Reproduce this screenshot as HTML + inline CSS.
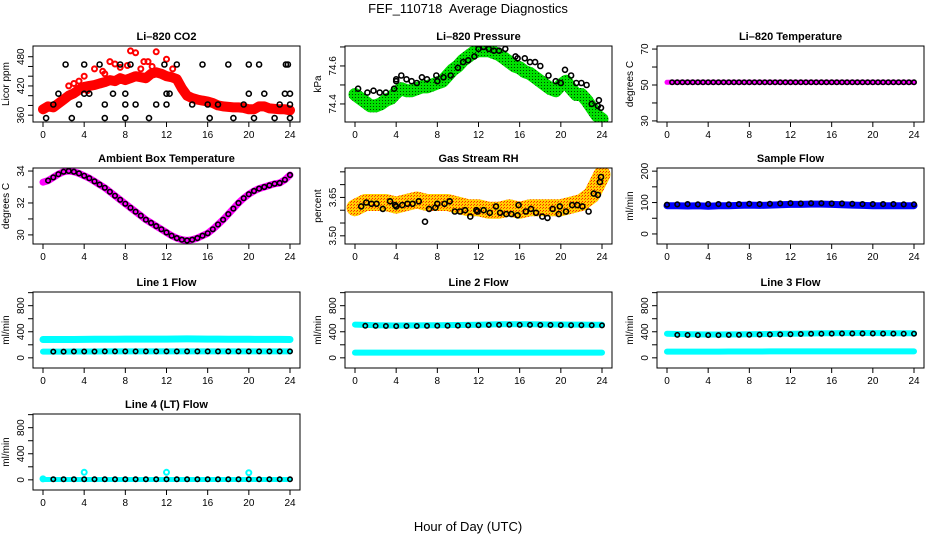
<!DOCTYPE html>
<html><head><meta charset="utf-8"><style>
html,body{margin:0;padding:0;background:#fff;}
svg{display:block;font-family:"Liberation Sans",sans-serif;}
</style></head><body>
<svg id="chart" width="936" height="540" viewBox="0 0 936 540">
<defs>
<pattern id="greenPat" width="3" height="3" patternUnits="userSpaceOnUse"><rect width="3" height="3" fill="#00e000"/><rect x="1" y="1" width="1" height="1" fill="#004400"/></pattern>
<pattern id="rhPat" width="3" height="3" patternUnits="userSpaceOnUse"><rect width="3" height="3" fill="#ffd000"/><rect x="0" y="0" width="1" height="1" fill="#ff2000"/><rect x="2" y="1" width="1" height="1" fill="#ff5000"/></pattern>
</defs>
<text x="468" y="13" text-anchor="middle" font-size="13">FEF_110718&#160; Average Diagnostics</text>
<text x="468" y="531" text-anchor="middle" font-size="13">Hour of Day (UTC)</text>
</svg>
<script>
// ---- data ----
const xTicks = [0,4,8,12,16,20,24];
const co2BandHours = [0,0.5,1,1.5,2,2.5,3,3.5,4,4.5,5,5.5,6,6.5,7,7.5,8,8.5,9,9.5,10,10.5,11,11.5,12,12.5,13,13.5,14,14.5,15,15.5,16,16.5,17,17.5,18,18.5,19,19.5,20,20.5,21,21.5,22,22.5,23,23.5,24];
const co2Band = [372,378,376,384,392,400,405,412,418,420,422,425,428,432,430,436,432,436,440,438,436,445,448,445,440,438,434,415,400,395,392,390,388,385,380,378,377,376,376,375,372,372,378,378,374,373,372,372,370];
const co2SpikeHours = [2.5,3,4,5,6,6.5,7.5,8.2,8.5,9,9.5,10.2,11,12,4.3,5.8,7,9.8,10.6,12.6,3.5];
const co2Spikes = [420,425,440,455,445,470,458,462,492,488,455,470,490,475,410,450,465,470,460,455,430];
const co2PtHours = [0.3,1,1.5,2.2,2.8,3.5,4,4,4.5,5.5,6,6,6.8,7.5,8,8,8,8.5,9,10.3,11,11.8,12,12,12.3,13,14.5,15.5,16,16.2,17,18,18.5,19.5,20,20,20.5,21,21.5,22.5,23,23.5,23.6,23.8,24,24,24];
const co2Pts = [354,382,404,464,354,382,464,404,404,464,382,354,404,464,404,382,354,464,382,354,382,464,404,382,404,464,382,464,382,354,382,464,354,382,464,404,354,464,404,354,382,404,464,464,354,404,382];
const presBandHours = co2BandHours;
const presBand = [74.45,74.43,74.41,74.39,74.39,74.40,74.42,74.43,74.46,74.48,74.47,74.47,74.48,74.49,74.49,74.50,74.51,74.52,74.55,74.58,74.60,74.63,74.65,74.67,74.68,74.68,74.68,74.67,74.66,74.64,74.62,74.60,74.59,74.57,74.56,74.54,74.52,74.50,74.48,74.47,74.50,74.52,74.48,74.45,74.45,74.42,74.38,74.34,74.32];
const presPtHours = [0.3,1.2,1.8,2.4,3,3.8,4,4,4.5,5,5.5,6,6.5,7,7.9,8,8.6,9.3,10,10.5,11,11.6,12,12.5,13,13.5,14,14.6,15.6,15.8,16.5,17,17.5,18,18.8,19.5,20,20.4,21,21.5,22,22.5,23,23.6,23.7,23.9];
const presPts = [74.48,74.46,74.47,74.46,74.46,74.48,74.52,74.53,74.55,74.53,74.52,74.51,74.54,74.53,74.55,74.52,74.54,74.55,74.59,74.62,74.63,74.65,74.69,74.70,74.69,74.68,74.68,74.69,74.65,74.64,74.64,74.62,74.62,74.60,74.55,74.52,74.51,74.58,74.55,74.51,74.51,74.50,74.40,74.39,74.42,74.38];
const tempHours = co2BandHours;
const tempVals = [51.5,51.5,51.5,51.5,51.5,51.5,51.5,51.5,51.5,51.5,51.5,51.5,51.5,51.5,51.5,51.5,51.5,51.5,51.5,51.5,51.5,51.5,51.5,51.5,51.5,51.5,51.5,51.5,51.5,51.5,51.5,51.5,51.5,51.5,51.5,51.5,51.5,51.5,51.5,51.5,51.5,51.5,51.5,51.5,51.5,51.5,51.5,51.5,51.5];
const ambHours = co2BandHours;
const ambVals = [33.3,33.4,33.6,33.8,33.95,34.0,33.95,33.85,33.7,33.55,33.35,33.15,32.95,32.7,32.45,32.2,31.95,31.7,31.45,31.2,30.95,30.75,30.55,30.35,30.15,29.95,29.8,29.7,29.65,29.7,29.8,29.95,30.1,30.35,30.65,30.95,31.3,31.65,32.0,32.3,32.55,32.75,32.9,33.0,33.1,33.2,33.25,33.45,33.75];
const rhBandHours = [0,1,2,3,4,5,6,7,8,9,10,11,12,13,14,15,16,17,18,19,20,21,22,23,23.5,24];
const rhBand = [3.61,3.63,3.63,3.63,3.62,3.63,3.64,3.63,3.63,3.63,3.62,3.61,3.61,3.60,3.60,3.61,3.60,3.61,3.61,3.61,3.61,3.62,3.63,3.66,3.70,3.74];
const rhPtHours = [0.6,1.1,1.6,2.1,2.7,3.4,3.9,4,4.6,5.1,5.6,6.2,6.8,7.2,7.8,8,8.7,9.2,9.7,10.2,10.7,11.2,11.8,11.9,12.5,13.1,13.7,14.1,14.7,15.2,15.8,15.9,16.6,17.1,17.6,18.2,18.7,19.2,19.8,19.9,20.5,21.1,21.6,22.1,22.7,23.2,23.6,23.8,23.9];
const rhPts = [3.615,3.63,3.625,3.625,3.605,3.635,3.62,3.615,3.62,3.625,3.625,3.635,3.555,3.605,3.61,3.625,3.625,3.635,3.595,3.595,3.60,3.575,3.60,3.595,3.60,3.59,3.615,3.59,3.585,3.585,3.58,3.62,3.595,3.605,3.59,3.575,3.57,3.605,3.585,3.615,3.595,3.62,3.62,3.615,3.595,3.665,3.66,3.71,3.73];
const flowHours = [0,1,2,3,4,5,6,7,8,9,10,11,12,13,14,15,16,17,18,19,20,21,22,23,24];
const sampleBand = [90,90,89,90,88,90,90,91,92,91,92,93,94,94,95,95,94,93,92,91,90,90,90,90,90];
const samplePts = [93,94,95,94,95,95,94,95,96,95,96,97,98,97,98,98,97,97,96,95,95,95,95,94,94];
const line1Hi = [282,282,281,282,283,284,285,286,287,288,288,288,288,289,290,289,288,287,286,285,284,283,283,283,282];
const line1Lo = [95,96,96,97,97,97,98,98,98,98,98,98,98,98,98,98,98,98,98,98,98,98,98,98,98];
const line2Hi = [510,505,500,498,496,497,498,499,500,502,504,506,508,512,515,516,515,514,513,512,511,510,510,509,508];
const line2Pts = [495,492,490,488,487,488,489,490,491,493,495,497,500,503,506,507,506,505,504,503,502,501,500,499,498];
const line2Lo = [80,80,80,80,80,80,80,80,80,80,80,80,80,80,80,80,80,80,80,80,80,80,80,80,80];
const line3Hi = [370,365,362,360,358,358,359,360,362,364,366,368,370,372,374,376,378,379,380,381,380,379,378,377,376];
const line3Pts = [355,352,350,349,348,349,350,352,354,356,358,360,362,365,368,370,372,373,374,374,373,372,372,371,370];
const line3Lo = [95,95,96,96,96,96,97,97,97,97,98,98,98,98,98,98,98,98,98,98,98,98,98,98,98];
const line4Band = [5,5,5,5,5,5,5,5,5,5,5,5,5,5,5,5,5,5,5,5,5,5,5,5,5];
const line4Pts = [8,8,8,8,8,8,8,8,8,8,8,8,8,8,8,8,8,8,8,8,8,8,8,8,8];
const line4SpikeHours = [0,4,12,20];
const line4Spikes = [15,115,115,110];

// ---- layout ----
const svg = document.getElementById('chart');
const NS = 'http://www.w3.org/2000/svg';
const colX = [33, 345, 657], rowY = [46, 168, 292, 414], PW = 267, PH = 76;
function mk(tag, attrs, parent){const e=document.createElementNS(NS,tag);for(const k in attrs)e.setAttribute(k,attrs[k]);(parent||svg).appendChild(e);return e;}

function panel(cfg){
  const x0 = colX[cfg.col], y0 = rowY[cfg.row];
  const g = mk('g',{});
  
  
  const xs = h => x0 + 10 + h/24*(PW-20);
  const ys = v => y0 + PH - (v - cfg.dom[0])/(cfg.dom[1]-cfg.dom[0])*PH;
  const clipId = 'clip-' + cfg.name;
  const cp = mk('clipPath',{id:clipId},g); mk('rect',{x:x0,y:y0,width:PW,height:PH},cp);
  const plot = mk('g',{'clip-path':'url(#'+clipId+')'},g);
  cfg.series.forEach(s=>{
    if(s.type==='band'){
      const d = s.h.map((h,i)=>(i?'L':'M')+xs(h).toFixed(1)+' '+ys(s.v[i]).toFixed(1)).join(' ');
      const p = mk('path',{d:d,fill:'none',stroke:s.color,'stroke-width':s.w,'stroke-linejoin':'round','stroke-linecap':'round'},plot);
      
      
    }
    if(s.type==='pts'){
      s.h.forEach((h,i)=>{
        const c = mk('circle',{cx:xs(h).toFixed(1),cy:ys(s.v[i]).toFixed(1),r:s.r||2.5,fill:s.fill||'none',stroke:s.color,'stroke-width':s.sw||1.6},plot);
        
        
      });
    }
  });
  const box = mk('rect',{x:x0,y:y0,width:PW,height:PH,fill:'none',stroke:'#000','stroke-width':1},g);
  
  
  const t = mk('text',{x:x0+PW/2,y:y0-6,'text-anchor':'middle','font-size':11,'font-weight':'bold'},g);
  t.textContent = cfg.title;
  
  
  const xa = mk('g',{},g);
  
  
  mk('line',{x1:xs(0),x2:xs(24),y1:y0+PH,y2:y0+PH,stroke:'#000'},xa);
  xTicks.forEach(v=>{
    mk('line',{x1:xs(v),x2:xs(v),y1:y0+PH,y2:y0+PH+5,stroke:'#000'},xa);
    const l = mk('text',{x:xs(v),y:y0+PH+16,'text-anchor':'middle','font-size':10},xa);
    l.textContent = v;
    
    
  });
  const ya = mk('g',{},g);
  
  
  mk('line',{x1:x0,x2:x0,y1:ys(cfg.yt[0]),y2:ys(cfg.yt[cfg.yt.length-1]),stroke:'#000'},ya);
  cfg.yt.forEach(v=>{ mk('line',{x1:x0-5,x2:x0,y1:ys(v),y2:ys(v),stroke:'#000'},ya); });
  cfg.yl.forEach((v,i)=>{
    const yy = ys(v), xx = x0-9;
    const l = mk('text',{x:xx,y:yy,'text-anchor':'middle','font-size':10,transform:'rotate(-90 '+xx+' '+yy+')'},ya);
    l.textContent = cfg.ylText[i];
    
    
  });
  const cy = y0+PH/2, cx = x0-24;
  const yt = mk('text',{x:cx,y:cy,'text-anchor':'middle','font-size':10,transform:'rotate(-90 '+cx+' '+cy+')'},g);
  yt.textContent = cfg.ylab;
  
  
}

const flowTicks=[0,200,400,600,800,1000], flowLabels=[0,400,800], flowLabelText=['0','400','800'];
panel({name:'co2',title:'Li\u2013820 CO2',col:0,row:0,dom:[346,502],yt:[360,380,400,420,440,460,480],yl:[360,420,480],ylText:['360','420','480'],ylab:'Licor ppm',
  series:[{type:'band',h:co2BandHours,v:co2Band,color:'#ff0000',w:10,name:'co2-licor-band'},
          {type:'pts',h:co2SpikeHours,v:co2Spikes,color:'#ff0000',name:'co2-licor-point',sw:2},
          {type:'pts',h:co2PtHours,v:co2Pts,color:'#000',name:'co2-average-point'}]});
panel({name:'pressure',title:'Li\u2013820 Pressure',col:1,row:0,dom:[74.305,74.705],yt:[74.4,74.5,74.6,74.7],yl:[74.4,74.6],ylText:['74.4','74.6'],ylab:'kPa',
  series:[{type:'band',h:presBandHours,v:presBand,color:'url(#greenPat)',w:13,name:'pressure-band'},
          {type:'pts',h:presPtHours,v:presPts,color:'#000',name:'pressure-average-point'}]});
panel({name:'temperature',title:'Li\u2013820 Temperature',col:2,row:0,dom:[29.4,71.7],yt:[30,40,50,60,70],yl:[30,50,70],ylText:['30','50','70'],ylab:'degrees C',
  series:[{type:'band',h:tempHours,v:tempVals,color:'#ff00ff',w:5,name:'temperature-band'},
          {type:'pts',h:tempHours.slice(1),v:tempVals.slice(1),color:'#000',name:'temperature-average-point',r:2.2}]});
panel({name:'ambient',title:'Ambient Box Temperature',col:0,row:1,dom:[29.43,34.19],yt:[30,31,32,33,34],yl:[30,32,34],ylText:['30','32','34'],ylab:'degrees C',
  series:[{type:'band',h:ambHours,v:ambVals,color:'#ff00ff',w:7,name:'ambient-band'},
          {type:'pts',h:ambHours.slice(1),v:ambVals.slice(1),color:'#000',name:'ambient-average-point',r:2.3}]});
panel({name:'rh',title:'Gas Stream RH',col:1,row:1,dom:[3.468,3.765],yt:[3.50,3.55,3.60,3.65,3.70,3.75],yl:[3.50,3.65],ylText:['3.50','3.65'],ylab:'percent',
  series:[{type:'band',h:rhBandHours,v:rhBand,color:'url(#rhPat)',w:17,name:'rh-band'},
          {type:'pts',h:rhPtHours,v:rhPts,color:'#000',name:'rh-average-point'}]});
panel({name:'sample-flow',title:'Sample Flow',col:2,row:1,dom:[-32,210],yt:[0,50,100,150,200],yl:[0,100,200],ylText:['0','100','200'],ylab:'ml/min',
  series:[{type:'band',h:flowHours,v:sampleBand,color:'#0000ff',w:7,name:'sample-flow-band'},
          {type:'pts',h:flowHours,v:samplePts,color:'#000',name:'sample-flow-average-point',r:2.3}]});
panel({name:'line1',title:'Line 1 Flow',col:0,row:2,dom:[-156,1010],yt:flowTicks,yl:flowLabels,ylText:flowLabelText,ylab:'ml/min',
  series:[{type:'band',h:flowHours,v:line1Hi,color:'#00ffff',w:7,name:'line1-high-band'},
          {type:'band',h:flowHours,v:line1Lo,color:'#00ffff',w:6,name:'line1-low-band'},
          {type:'pts',h:flowHours.slice(1),v:line1Lo.slice(1),color:'#000',name:'line1-average-point',r:2.2}]});
panel({name:'line2',title:'Line 2 Flow',col:1,row:2,dom:[-156,1010],yt:flowTicks,yl:flowLabels,ylText:flowLabelText,ylab:'ml/min',
  series:[{type:'band',h:flowHours,v:line2Hi,color:'#00ffff',w:6,name:'line2-high-band'},
          {type:'band',h:flowHours,v:line2Lo,color:'#00ffff',w:6,name:'line2-low-band'},
          {type:'pts',h:flowHours.slice(1),v:line2Pts.slice(1),color:'#000',name:'line2-average-point',r:2.2}]});
panel({name:'line3',title:'Line 3 Flow',col:2,row:2,dom:[-156,1010],yt:flowTicks,yl:flowLabels,ylText:flowLabelText,ylab:'ml/min',
  series:[{type:'band',h:flowHours,v:line3Hi,color:'#00ffff',w:6,name:'line3-high-band'},
          {type:'band',h:flowHours,v:line3Lo,color:'#00ffff',w:6,name:'line3-low-band'},
          {type:'pts',h:flowHours.slice(1),v:line3Pts.slice(1),color:'#000',name:'line3-average-point',r:2.2}]});
panel({name:'line4',title:'Line 4 (LT) Flow',col:0,row:3,dom:[-156,1010],yt:flowTicks,yl:flowLabels,ylText:flowLabelText,ylab:'ml/min',
  series:[{type:'band',h:flowHours,v:line4Band,color:'#00ffff',w:5,name:'line4-band'},
          {type:'pts',h:line4SpikeHours,v:line4Spikes,color:'#00ffff',name:'line4-spike-point',sw:2},
          {type:'pts',h:flowHours.slice(1),v:line4Pts.slice(1),color:'#000',name:'line4-average-point',r:2.2}]});
</script>
</body></html>
